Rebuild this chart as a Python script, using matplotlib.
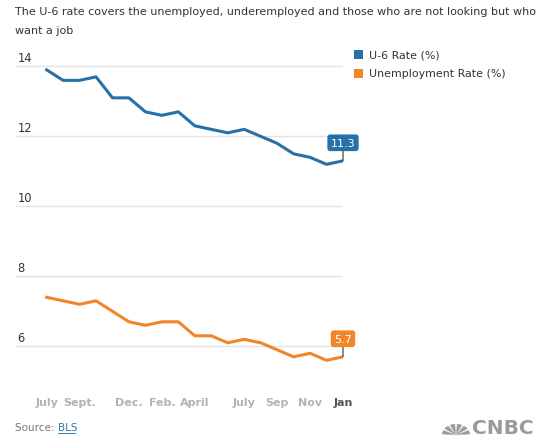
import matplotlib

matplotlib.use("Agg")
import matplotlib.pyplot as plt
from matplotlib.patches import Rectangle, Wedge
from matplotlib.transforms import blended_transform_factory

# ── data (monthly, July 2013 .. Jan 2015) ─────────
months = ["Jul 2013", "Aug 2013", "Sep 2013", "Oct 2013", "Nov 2013", "Dec 2013",
          "Jan 2014", "Feb 2014", "Mar 2014", "Apr 2014", "May 2014", "Jun 2014",
          "Jul 2014", "Aug 2014", "Sep 2014", "Oct 2014", "Nov 2014", "Dec 2014",
          "Jan 2015"]
u6_rate = [13.9, 13.6, 13.6, 13.7, 13.1, 13.1, 12.7, 12.6, 12.7, 12.3,
           12.2, 12.1, 12.2, 12.0, 11.8, 11.5, 11.4, 11.2, 11.3]
unemp_rate = [7.4, 7.3, 7.2, 7.3, 7.0, 6.7, 6.6, 6.7, 6.7, 6.3,
              6.3, 6.1, 6.2, 6.1, 5.9, 5.7, 5.8, 5.6, 5.7]
tick_pos = [0, 2, 5, 7, 9, 12, 14, 16, 18]
tick_labels = ["July", "Sept.", "Dec.", "Feb.", "April", "July", "Sep", "Nov", "Jan"]
y_ticks = [6, 8, 10, 12, 14]

BLUE = "#2870a8"
ORANGE = "#f0862a"
W, H = 554, 439

plt.rcParams["font.family"] = ["DejaVu Sans"]

fig = plt.figure(figsize=(W / 100, H / 100), dpi=100)
# axes box in pixels: x 16..343, y 60..383 (from top)
ax = fig.add_axes([16 / W, (H - 383) / H, 327 / W, 323 / H])
ax.set_xlim(-1.86, 18)
ax.set_ylim(4.98, 14.21)
for s in ax.spines.values():
    s.set_visible(False)
ax.set_xticks([])
ax.set_yticks([])

# gridlines + y labels
ytr = blended_transform_factory(ax.transAxes, ax.transData)
for v in y_ticks:
    ax.axhline(v, color="#e3e3e3", lw=1.0, zorder=0)
    ax.annotate(str(v), xy=(0, v), xycoords=ytr, xytext=(1, 1.5),
                textcoords="offset points", ha="left", va="bottom",
                fontsize=8.3, color="#333333")

x = list(range(len(months)))
ax.plot(x, u6_rate, color=BLUE, lw=2.2, solid_joinstyle="round", zorder=3)
ax.plot(x, unemp_rate, color=ORANGE, lw=2.2, solid_joinstyle="round", zorder=3)

# end-value call-outs
for vals, col in ((u6_rate, BLUE), (unemp_rate, ORANGE)):
    ax.annotate(f"{vals[-1]:.1f}", xy=(x[-1], vals[-1]), xytext=(0, 13),
                textcoords="offset points", ha="center", va="center",
                fontsize=8, color="white", zorder=5,
                bbox=dict(boxstyle="round,pad=0.3,rounding_size=0.25",
                          fc=col, ec="none"),
                arrowprops=dict(arrowstyle="-", color="#333333", lw=0.8,
                                shrinkA=0, shrinkB=0))

# x labels
xtr = blended_transform_factory(ax.transData, ax.transAxes)
for p, lab in zip(tick_pos, tick_labels):
    last = p == tick_pos[-1]
    ax.text(p, -20 / 323, lab, transform=xtr, ha="center", va="center",
            fontsize=8, fontweight="bold",
            color="#555555" if last else "#b3b3b3")

# title
fig.text(15 / W, 1 - 12 / H,
         "The U-6 rate covers the unemployed, underemployed and those who are not looking but who",
         ha="left", va="center", fontsize=8.05, color="#333333")
fig.text(15 / W, 1 - 31 / H, "want a job",
         ha="left", va="center", fontsize=8.05, color="#333333")

# legend
for yc, col, lab in ((55.7, BLUE, "U-6 Rate (%)"), (74, ORANGE, "Unemployment Rate (%)")):
    fig.add_artist(Rectangle((354 / W, 1 - (yc + 4.5) / H), 9 / W, 9 / H,
                             transform=fig.transFigure, fc=col, ec="none"))
    fig.text(369 / W, 1 - yc / H, lab, ha="left", va="center",
             fontsize=7.9, color="#333333")

# source
src = fig.text(15 / W, 1 - 428 / H, "Source: ", ha="left", va="center",
               fontsize=7.5, color="#777777")
fig.canvas.draw()
bb = src.get_window_extent()
fig.text(bb.x1 / W, 1 - 428 / H, "BLS", ha="left", va="center",
         fontsize=7.5, color="#2a7ab0")
fig.add_artist(plt.Line2D([bb.x1 / W, (bb.x1 + 17) / W],
                          [1 - 434 / H, 1 - 434 / H], color="#2a7ab0", lw=0.7))

# CNBC mark
cx, cy = 456, 436
for ang in range(0, 180, 30):
    fig.add_artist(Wedge((cx / W, (H - cy) / H), 14 / W, ang + 4, ang + 26,
                         transform=fig.transFigure, fc="#9a9a9a", ec="none"))
fig.text(472 / W, 1 - 429 / H, "CNBC", ha="left", va="center",
         fontsize=14.5, fontweight="bold", color="#9a9a9a")

fig.savefig("out.png", dpi=100)
